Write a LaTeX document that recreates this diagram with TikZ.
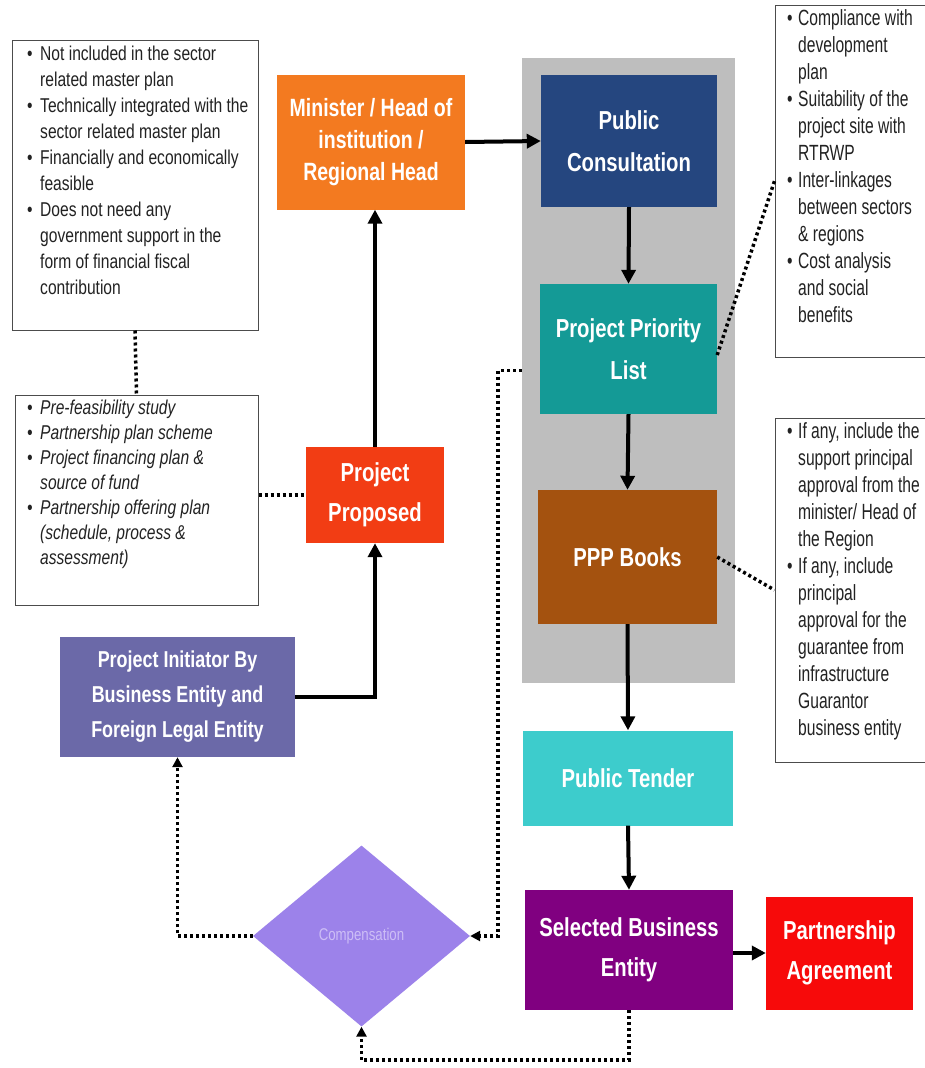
\documentclass[tikz,border=0pt]{standalone}
\usepackage{fontspec}
\setmainfont{Liberation Sans}[FakeStretch=0.78]
\newfontfamily\narrowr{Liberation Sans}[FakeStretch=0.71]
\usetikzlibrary{arrows.meta,shapes.geometric}
\definecolor{cMin}{HTML}{F37A20}
\definecolor{cPC}{HTML}{25467F}
\definecolor{cPPL}{HTML}{149A96}
\definecolor{cPPP}{HTML}{A4520F}
\definecolor{cTen}{HTML}{3DCCCC}
\definecolor{cSel}{HTML}{800080}
\definecolor{cAgr}{HTML}{F70A0A}
\definecolor{cProp}{HTML}{F23D14}
\definecolor{cInit}{HTML}{6B69A8}
\definecolor{cComp}{HTML}{9C82EA}
\definecolor{cCompT}{HTML}{CDBEF6}
\definecolor{cPanel}{HTML}{BEBEBE}
\definecolor{cTxt}{HTML}{222222}
\newcommand\bl{\makebox[13pt][l]{•}}
\newcommand\ti{\hspace*{13pt}}
\newcommand\blr{\makebox[11pt][l]{•}}
\newcommand\tir{\hspace*{11pt}}
\begin{document}
\begin{tikzpicture}[x=1pt,y=-1pt,
  box/.style={rectangle, inner sep=0pt, text=white, align=center, font=\bfseries\fontsize{26}{42}\selectfont},
  note/.style={rectangle, inner sep=0pt, draw=black!70, line width=1pt, fill=white},
  notetext/.style={anchor=north west, align=left, inner sep=0pt, text=cTxt},
  flow/.style={line width=4pt, -{Triangle[length=14pt,width=14pt]}},
  dots/.style={line width=3.5pt, dash pattern=on 3pt off 3pt},
  dtip/.style={-{Triangle[length=10pt,width=10pt]}}
]
\useasboundingbox (0,0) rectangle (924,1068);
\fill[white] (0,0) rectangle (924,1068);

% gray panel
\node[rectangle, inner sep=0pt, fill=cPanel, minimum width=213pt, minimum height=625pt] (panel) at (628.5,370.5) {};

% main boxes
\node[box, fill=cMin, minimum width=188pt, minimum height=135pt, font=\bfseries\fontsize{25}{32}\selectfont] (minister) at (371,142) {Minister / Head of\\institution /\\Regional Head};
\node[box, fill=cPC, minimum width=176pt, minimum height=132pt] (pc) at (629,141) {Public\\Consultation};
\node[box, fill=cPPL, minimum width=177pt, minimum height=130pt] (ppl) at (628.5,349) {Project Priority\\List};
\node[box, fill=cPPP, minimum width=179pt, minimum height=134pt] (ppp) at (627.5,557) {PPP Books};
\node[box, fill=cTen, minimum width=210pt, minimum height=95pt] (tender) at (628,778) {Public Tender};
\node[box, fill=cSel, minimum width=208pt, minimum height=120pt, font=\bfseries\fontsize{26}{40}\selectfont] (sel) at (629,950) {Selected Business\\Entity};
\node[box, fill=cAgr, minimum width=147pt, minimum height=113pt, font=\bfseries\fontsize{26}{40}\selectfont] (agree) at (839.5,953) {Partnership\\Agreement};
\node[box, fill=cProp, minimum width=138pt, minimum height=96pt, font=\bfseries\fontsize{26}{40}\selectfont] (proposed) at (375,495) {Project\\Proposed};
\node[box, fill=cInit, minimum width=235pt, minimum height=120pt, font=\bfseries\fontsize{23}{35}\selectfont] (init) at (177.5,697) {Project Initiator By\\Business Entity and\\Foreign Legal Entity};
\node[diamond, fill=cComp, inner sep=0pt, minimum width=217pt, minimum height=181pt, text=cCompT, font=\fontsize{17}{19}\selectfont] (comp) at (361.5,936) {Compensation};

% note boxes
\node[note, minimum width=246pt, minimum height=290pt] (tl) at (135,185) {};
\node[notetext, font=\fontsize{20}{26}\selectfont] (tlt) at (27,46) {\bl Not included in the sector\\
\ti related master plan\\
\bl Technically integrated with the\\
\ti sector related master plan\\
\bl Financially and economically\\
\ti feasible\\
\bl Does not need any\\
\ti government support in the\\
\ti form of financial fiscal\\
\ti contribution};

\node[note, minimum width=243pt, minimum height=210pt] (ml) at (136.5,500) {};
\node[notetext, font=\itshape\fontsize{20}{25}\selectfont] (mlt) at (27,400) {\bl Pre-feasibility study\\
\bl Partnership plan scheme\\
\bl Project financing plan \&\\
\ti source of fund\\
\bl Partnership offering plan\\
\ti (schedule, process \&\\
\ti assessment)};

\node[note, minimum width=152pt, minimum height=352pt] (tr) at (851,181) {};
\node[notetext, font=\narrowr\fontsize{22}{27}\selectfont] (trt) at (787,9) {\blr Compliance with\\
\tir development\\
\tir plan\\
\blr Suitability of the\\
\tir project site with\\
\tir RTRWP\\
\blr Inter-linkages\\
\tir between sectors\\
\tir \& regions\\
\blr Cost analysis\\
\tir and social\\
\tir benefits};

\node[note, minimum width=152pt, minimum height=344pt] (br) at (851,590) {};
\node[notetext, font=\narrowr\fontsize{22}{27}\selectfont] (brt) at (787,422) {\blr If any, include the\\
\tir support principal\\
\tir approval from the\\
\tir minister/ Head of\\
\tir the Region\\
\blr If any, include\\
\tir principal\\
\tir approval for the\\
\tir guarantee from\\
\tir infrastructure\\
\tir Guarantor\\
\tir business entity};

% solid flow arrows
\draw[flow] (minister.east) -- (pc.west);
\draw[flow] (pc.south) -- (ppl.north);
\draw[flow] (ppl.south) -- (ppp.north);
\draw[flow] (ppp.south) -- (tender.north);
\draw[flow] (tender.south) -- (sel.north);
\draw[flow] (sel.east |- agree.west) -- (agree.west);
\draw[flow] (proposed.north) -- (proposed.north |- minister.south);
\draw[flow] (init.east) -| (proposed.south);

% dotted links
\draw[dots] (tl.south) -- (ml.north);
\draw[dots] (ml.east |- proposed.west) -- (proposed.west);
\draw[dots] ([yshift=-6pt]ppl.east) -- (tr.west);
\draw[dots] (ppp.east) -- (br.west);
\coordinate (c1) at (498,936);
\draw[dots, dtip] (panel.west) -| (c1) -- (comp.east);
\draw[dots, dtip] (comp.west) -| (init.south);
\draw[dots, dtip] (sel.south) -- ++(0,50) -| (comp.south);
\end{tikzpicture}
\end{document}
